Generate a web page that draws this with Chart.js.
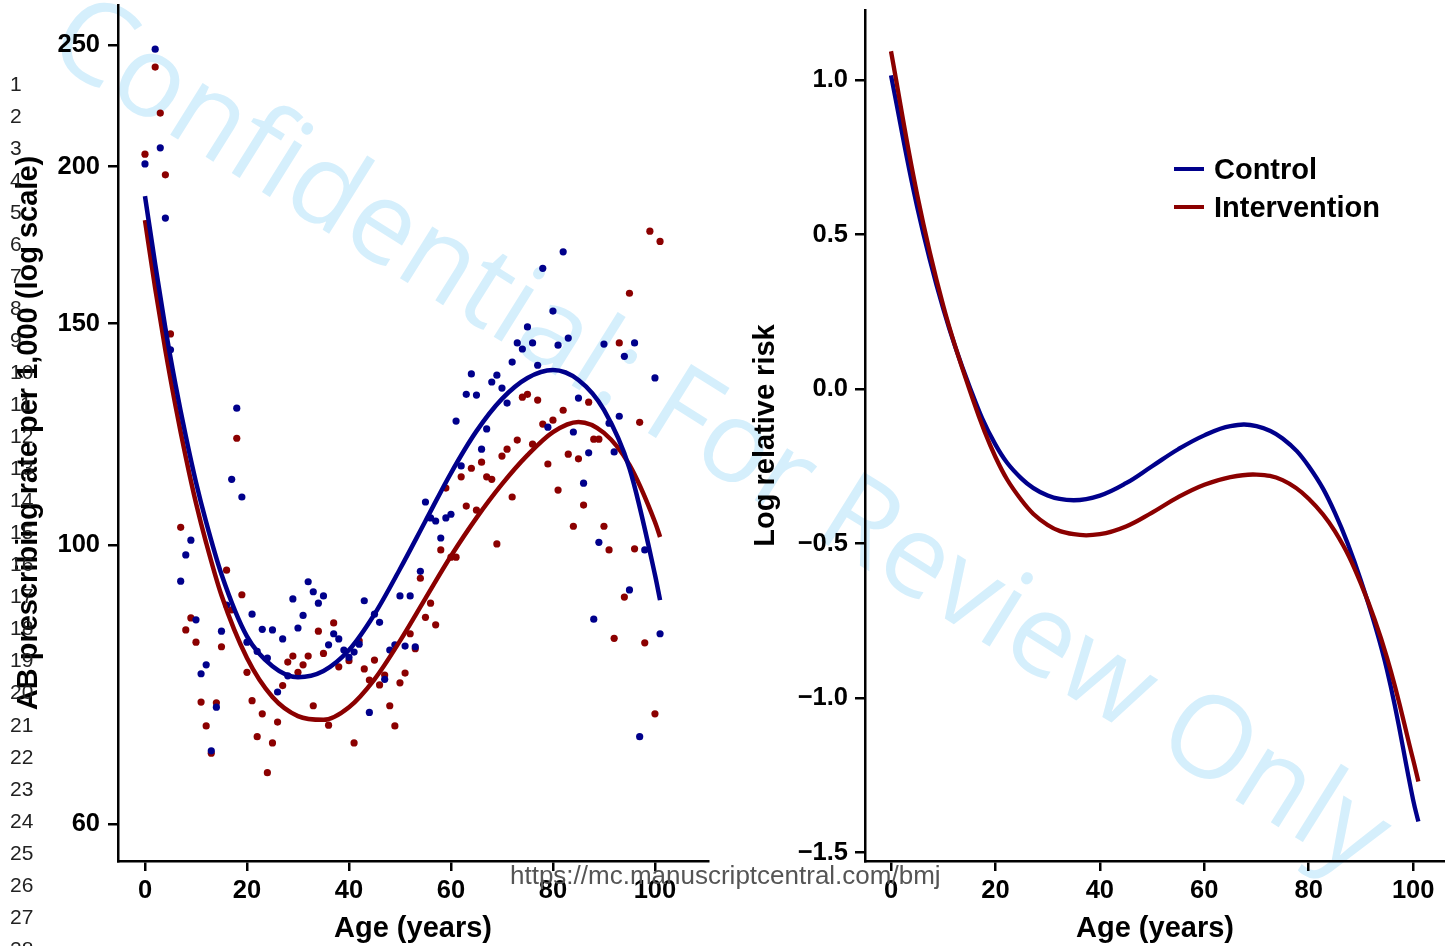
<!DOCTYPE html>
<html><head><meta charset="utf-8">
<script src="https://cdn.jsdelivr.net/npm/chart.js@4.4.0/dist/chart.umd.min.js"></script>
<style>
html,body{margin:0;padding:0;background:#fff;}
body{width:1445px;height:946px;overflow:hidden;position:relative;font-family:"Liberation Sans",Arial,sans-serif;}
#wm{position:absolute;left:0;top:0;width:1445px;height:946px;overflow:hidden;z-index:0;}
#wm span{position:absolute;white-space:nowrap;font-family:"Open Sans",sans-serif;font-size:114px;line-height:114px;color:#d5effc;transform-origin:0 101px;transform:rotate(32deg);}
canvas{position:absolute;top:0;z-index:1;}
#left{left:0;}
#right{left:720px;}
.ln{position:absolute;left:10px;font-size:21px;line-height:21px;color:#222;z-index:2;}
#url{position:absolute;left:510px;top:862px;font-size:26px;line-height:26px;color:#555;z-index:2;white-space:nowrap;}
.lg{position:absolute;z-index:2;font-weight:bold;font-size:29px;line-height:29px;color:#000;white-space:nowrap;}
.lgline{position:absolute;z-index:2;height:4px;width:30px;left:1174px;}
</style>
</head><body>
<div id="wm"><span id="wmtext">Confidential: For Review Only</span></div>
<canvas id="left" width="720" height="946"></canvas>
<canvas id="right" width="725" height="946"></canvas>
<div id="lines"></div>
<div id="url">https://mc.manuscriptcentral.com/bmj</div>
<div class="lgline" style="top:167px;background:#00008B"></div>
<div class="lg" style="left:1214px;top:155px">Control</div>
<div class="lgline" style="top:205px;background:#8B0000"></div>
<div class="lg" style="left:1214px;top:193px">Intervention</div>
<script>
// ---- data ----
const ages = [0,1,2,3,4,5,6,7,8,9,10,11,12,13,14,15,16,17,18,19,20,21,22,23,24,25,26,27,28,29,30,31,32,33,34,35,36,37,38,39,40,41,42,43,44,45,46,47,48,49,50,51,52,53,54,55,56,57,58,59,60,61,62,63,64,65,66,67,68,69,70,71,72,73,74,75,76,77,78,79,80,81,82,83,84,85,86,87,88,89,90,91,92,93,94,95,96,97,98,99,100,101];
const controlRate = [201,null,248,207,182,143,null,93.6,98.2,100.9,87.2,79.0,80.3,68.6,74.3,85.4,89.6,112.8,128.5,109.2,83.7,88.1,82.3,85.7,81.3,85.6,76.4,84.2,78.7,90.6,85.9,87.9,93.5,91.8,89.9,91.1,83.3,85.0,84.2,82.5,81.4,82.2,83.4,90.3,73.6,88.1,86.8,78.2,82.5,83.3,91.1,83.1,91.1,83.0,95.3,108.2,105.1,104.5,101.3,105.1,105.8,125.5,115.6,131.8,136.8,131.6,119.2,123.7,134.8,136.5,133.3,129.7,139.8,144.8,143.2,149.1,144.8,139.0,166.0,124.1,153.5,144.2,171.1,146.1,123.0,130.9,112.0,118.4,87.3,100.5,144.5,125.0,118.6,126.6,141.3,92.1,144.8,70.4,99.1,null,135.8,85.0];
const interventionRate = [204.6,null,240,220.6,197,147.2,null,103.3,85.6,87.5,83.7,75.0,71.8,68.3,74.9,83.0,95.5,88.8,121.6,91.3,79.2,75.2,70.4,73.4,65.9,69.6,72.3,77.3,80.7,81.6,79.2,80.3,81.6,74.5,85.4,82.0,71.9,86.7,80.0,null,80.9,69.6,83.9,79.7,78.1,81.0,77.4,78.8,74.5,71.8,77.7,79.1,85.0,82.7,94.1,87.6,89.9,86.4,99.1,111.0,97.8,97.8,113.3,107.4,115.1,106.6,116.4,113.3,112.8,100.2,117.7,119.2,109.2,121.2,131.1,131.8,120.3,130.4,124.8,116.0,125.7,110.6,128.0,118.1,103.5,117.1,107.6,129.9,121.4,121.4,103.5,99.1,84.3,144.8,90.9,158.6,99.3,125.2,83.6,177.7,73.4,174.4];

const fitAges = [0,2,4,6,8,10,12,15,20,25,30,35,40,45,50,55,60,65,70,75,80,85,90,95,100,101];
const controlFit = [189.5,167.3,148.8,134.1,122.1,112.2,104.3,94.8,84.6,80.1,78.5,79.4,82.5,88.1,95.7,104.5,114.1,123.2,130.7,135.8,137.8,135.3,128.1,115.1,94.7,90.4];
const interventionFit = [181.3,160.1,142.9,129.0,117.5,108.0,100.4,91.2,81.3,75.7,73.1,72.6,74.3,78.2,83.9,90.7,98.0,105.1,111.8,117.9,123.0,125.3,122.8,115.8,104.3,101.5];

const rrAges = [0,5,10,15,20,25,30,35,40,45,50,55,60,65,70,75,80,85,90,95,100,101];
const controlLogRR = [1.015,0.59,0.26,0.01,-0.18,-0.29,-0.345,-0.36,-0.345,-0.305,-0.25,-0.195,-0.15,-0.12,-0.12,-0.16,-0.25,-0.40,-0.62,-0.91,-1.33,-1.40];
const interventionLogRR = [1.093,0.63,0.27,0.00,-0.22,-0.36,-0.44,-0.47,-0.47,-0.445,-0.40,-0.35,-0.31,-0.285,-0.277,-0.295,-0.355,-0.46,-0.63,-0.87,-1.20,-1.27];

const rateTicks = [60,100,150,200,250];
const ageTicks = [0,20,40,60,80,100];
const rrTicks = [-1.5,-1.0,-0.5,0.0,0.5,1.0];
const lineNumbers = [1,2,3,4,5,6,7,8,9,10,11,12,13,14,15,16,17,18,19,20,21,22,23,24,25,26,27,28];

// ---- page furniture ----
const wm = document.getElementById('wmtext');
wm.style.left = '43px'; wm.style.top = (55 - 101) + 'px';
const linesDiv = document.getElementById('lines');
lineNumbers.forEach((n, i) => {
  const d = document.createElement('div');
  d.className = 'ln';
  d.textContent = n;
  d.style.top = (83 + i * 32.05 - 10.5) + 'px';
  linesDiv.appendChild(d);
});

// ---- charts ----
const BLUE = '#00008B', RED = '#8B0000';
Chart.defaults.font.family = '"Liberation Sans", Arial, sans-serif';
Chart.defaults.color = '#000';
const pts = (xs, ys) => xs.map((x, i) => ({x: x, y: ys[i]})).filter(p => p.y !== null);
const tickFont = {size: 25.5, weight: 'bold'};
const titleFont = {size: 29, weight: 'bold'};
const gridOpts = {drawOnChartArea: false, drawTicks: true, tickLength: 10, color: '#000', lineWidth: 2.5};
const borderOpts = {display: true, color: '#000', width: 2.5};
const minusFmt = v => (v < 0 ? '\u2212' : '') + Math.abs(v).toFixed(1);
const zeroPad = s => { s.paddingTop = 0; s.paddingBottom = 0; s.paddingLeft = 0; s.paddingRight = 0; };

new Chart(document.getElementById('left'), {
  data: {
    datasets: [
      {type: 'line', data: pts(fitAges, controlFit), borderColor: BLUE, borderWidth: 4.5, pointRadius: 0, cubicInterpolationMode: 'monotone', fill: false, order: 1},
      {type: 'line', data: pts(fitAges, interventionFit), borderColor: RED, borderWidth: 4.5, pointRadius: 0, cubicInterpolationMode: 'monotone', fill: false, order: 2},
      {type: 'scatter', data: pts(ages, controlRate), backgroundColor: BLUE, borderWidth: 0, pointRadius: 3.6, order: 3},
      {type: 'scatter', data: pts(ages, interventionRate), backgroundColor: RED, borderWidth: 0, pointRadius: 3.6, order: 4}
    ]
  },
  options: {
    responsive: false, animation: false, devicePixelRatio: 1,
    layout: {padding: {left: 0, right: 12, top: 5, bottom: 0}},
    plugins: {legend: {display: false}, tooltip: {enabled: false}},
    scales: {
      x: {
        type: 'linear', min: -5.29, max: 110.4,
        afterBuildTicks: s => { s.ticks = ageTicks.map(v => ({value: v})); },
        afterFit: s => { s.height = 85; zeroPad(s); },
        ticks: {font: tickFont, color: '#000', padding: 5, maxRotation: 0, callback: v => String(v)},
        grid: gridOpts, border: borderOpts,
        title: {display: true, text: 'Age (years)', font: titleFont, color: '#000', padding: {top: 0, bottom: 0}}
      },
      y: {
        type: 'logarithmic', min: 56.06, max: 268.9,
        afterBuildTicks: s => { s.ticks = rateTicks.map(v => ({value: v})); },
        afterFit: s => { s.width = 118; zeroPad(s); },
        ticks: {font: tickFont, color: '#000', padding: 8, callback: v => String(v)},
        grid: gridOpts, border: borderOpts,
        title: {display: true, text: 'AB prescribing rate per 1,000 (log scale)', font: titleFont, color: '#000', padding: {top: 11.6, bottom: 0}}
      }
    }
  }
});

new Chart(document.getElementById('right'), {
  type: 'line',
  data: {
    datasets: [
      {data: pts(rrAges, controlLogRR), borderColor: BLUE, borderWidth: 4.3, pointRadius: 0, tension: 0.4, fill: false, order: 2},
      {data: pts(rrAges, interventionLogRR), borderColor: RED, borderWidth: 4.3, pointRadius: 0, tension: 0.4, fill: false, order: 1}
    ]
  },
  options: {
    responsive: false, animation: false, devicePixelRatio: 1,
    layout: {padding: {left: 0, right: 0, top: 10, bottom: 0}},
    plugins: {legend: {display: false}, tooltip: {enabled: false}},
    scales: {
      x: {
        type: 'linear', min: -4.98, max: 106.1,
        afterBuildTicks: s => { s.ticks = ageTicks.map(v => ({value: v})); },
        afterFit: s => { s.height = 85; zeroPad(s); },
        ticks: {font: tickFont, color: '#000', padding: 5, maxRotation: 0, callback: v => String(v)},
        grid: gridOpts, border: borderOpts,
        title: {display: true, text: 'Age (years)', font: titleFont, color: '#000', padding: {top: 0, bottom: 0}}
      },
      y: {
        type: 'linear', min: -1.5275, max: 1.2265,
        afterBuildTicks: s => { s.ticks = rrTicks.map(v => ({value: v})); },
        afterFit: s => { s.width = 145; zeroPad(s); },
        ticks: {font: tickFont, color: '#000', padding: 7, callback: minusFmt},
        grid: gridOpts, border: borderOpts,
        title: {display: true, text: 'Log relative risk', font: titleFont, color: '#000', padding: {top: 28.6, bottom: 0}}
      }
    }
  }
});
</script>
</body></html>
